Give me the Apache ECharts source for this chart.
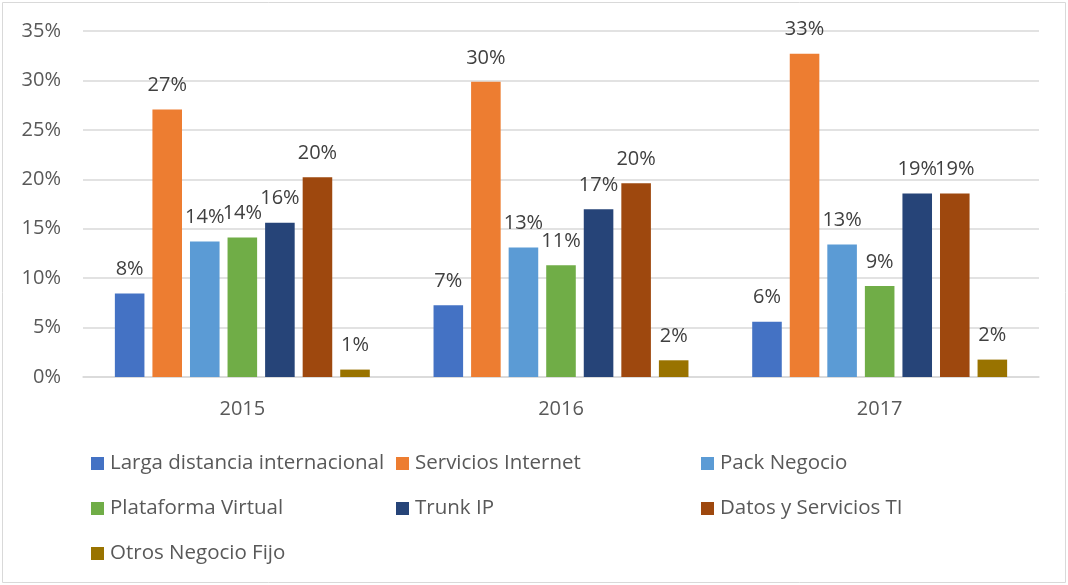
<!DOCTYPE html>
<html>
<head>
<meta charset="utf-8">
<script src="https://cdn.jsdelivr.net/npm/echarts@6/dist/echarts.min.js"></script>
<style>
  html, body { margin: 0; padding: 0; background: #fff; }
  #chart { width: 1068px; height: 585px; }
</style>
</head>
<body>
<div id="chart"></div>
<script>
// datos (porcentaje)
var years = ['2015', '2016', '2017'];
var seriesNames = ['Larga distancia internacional', 'Servicios Internet', 'Pack Negocio',
  'Plataforma Virtual', 'Trunk IP', 'Datos y Servicios TI', 'Otros Negocio Fijo'];
var largaDistancia = [8.45, 7.26, 5.6];
var serviciosInternet = [27.05, 29.86, 32.7];
var packNegocio = [13.7, 13.1, 13.4];
var plataformaVirtual = [14.1, 11.3, 9.2];
var trunkIP = [15.6, 16.96, 18.55];
var datosServicios = [20.2, 19.6, 18.55];
var otrosNegocio = [0.75, 1.69, 1.76];
var colors = ['#4472C4', '#ED7D31', '#5B9BD5', '#70AD47', '#264478', '#9E480E', '#997300'];

var allValues = [largaDistancia, serviciosInternet, packNegocio, plataformaVirtual,
  trunkIP, datosServicios, otrosNegocio];

var myChart = echarts.init(document.getElementById('chart'));
var fontName = 'Open Sans';

var series = [];
for (var i = 0; i < seriesNames.length; i++) {
  series.push({
    name: seriesNames[i],
    type: 'bar',
    data: allValues[i],
    barCategoryGap: '20%',
    barGap: '27%',
    itemStyle: { color: colors[i] },
    label: {
      show: true,
      position: 'top',
      distance: 14,
      color: '#404040',
      fontFamily: fontName,
      fontSize: 20,
      formatter: function (p) { return Math.round(p.value) + '%'; }
    }
  });
}

var option = {
  animation: false,
  color: colors,
  graphic: [{
    type: 'rect',
    shape: { x: 2.5, y: 2.5, width: 1063, height: 580 },
    style: { fill: 'none', stroke: '#d9d9d9', lineWidth: 1 },
    silent: true
  }],
  grid: { left: 83, right: 29, top: 31, bottom: 208 },
  xAxis: {
    type: 'category',
    data: years,
    axisTick: { show: false },
    axisLine: { lineStyle: { color: '#d9d9d9', width: 1.5 } },
    axisLabel: { color: '#595959', fontFamily: fontName, fontSize: 20, margin: 22 }
  },
  yAxis: {
    type: 'value',
    min: 0,
    max: 35,
    interval: 5,
    axisLine: { show: false },
    axisTick: { show: false },
    splitLine: { lineStyle: { color: '#d9d9d9', width: 1.5 } },
    axisLabel: {
      color: '#595959', fontFamily: fontName, fontSize: 20, margin: 22,
      formatter: '{value}%'
    }
  },
  legend: {
    left: 86,
    top: 439,
    width: 960,
    itemWidth: 13,
    itemHeight: 13,
    itemGap: 6,
    icon: 'rect',
    data: seriesNames,
    textStyle: {
      color: '#595959', fontFamily: fontName, fontSize: 20.5,
      width: 280, lineHeight: 39, padding: [0, 0, 0, 1]
    }
  },
  series: series
};

myChart.setOption(option);
</script>
</body>
</html>
